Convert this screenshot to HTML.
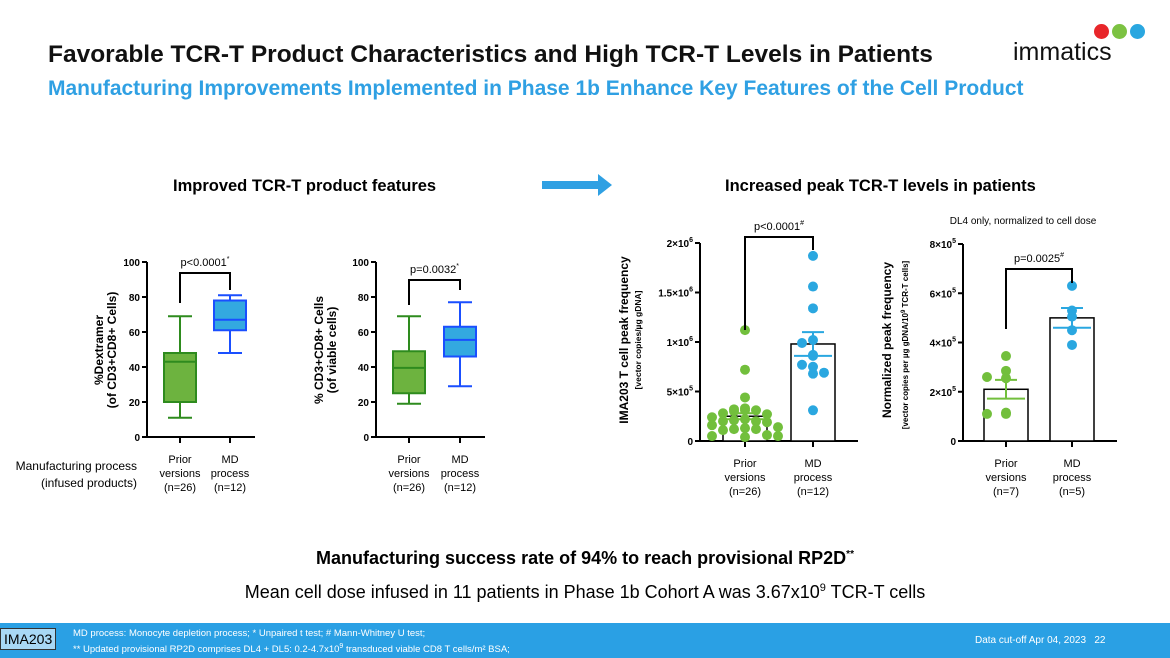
<!DOCTYPE html>
<html><head><meta charset="utf-8"><style>
body{margin:0;width:1170px;height:658px;overflow:hidden;background:#fff;font-family:"Liberation Sans",sans-serif;position:relative}
.t{position:absolute;white-space:nowrap}
</style></head><body>
<div class="t" style="left:48px;top:41px;font-size:24.5px;font-weight:bold;color:#111">Favorable TCR-T Product Characteristics and High TCR-T Levels in Patients</div>
<div class="t" style="left:48px;top:77px;font-size:21px;font-weight:bold;color:#2fa0e3">Manufacturing Improvements Implemented in Phase 1b Enhance Key Features of the Cell Product</div>
<div style="position:absolute;left:1010px;top:20px;width:130px;height:50px">
<div style="position:absolute;left:84px;top:4px;width:15px;height:15px;border-radius:50%;background:#e8262a"></div>
<div style="position:absolute;left:102px;top:4px;width:15px;height:15px;border-radius:50%;background:#7cc242"></div>
<div style="position:absolute;left:120px;top:4px;width:15px;height:15px;border-radius:50%;background:#2aa7e0"></div>
<div class="t" style="left:3px;top:18px;font-size:25px;color:#111">immatics</div></div>
<div class="t" style="left:173px;top:177px;font-size:16.5px;font-weight:bold">Improved TCR-T product features</div>
<div class="t" style="left:725px;top:177px;font-size:16.5px;font-weight:bold">Increased peak TCR-T levels in patients</div>
<svg style="position:absolute;left:542px;top:173px" width="72" height="24"><path d="M0 8H56V1L70 12L56 23V16H0Z" fill="#2fa0e3"/></svg>
<div class="t" style="left:10px;top:458px;font-size:12px;text-align:right;line-height:17px;width:127px">Manufacturing process<br>(infused products)</div>
<svg id="ch" style="position:absolute;left:0;top:0" width="1170" height="610" font-family="Liberation Sans, sans-serif"></svg>
<div class="t" style="left:0;width:1170px;text-align:center;top:548px;font-size:18px;font-weight:bold">Manufacturing success rate of 94% to reach provisional RP2D<sup style="font-size:10px">**</sup></div>
<div class="t" style="left:0;width:1170px;text-align:center;top:582px;font-size:18px">Mean cell dose infused in 11 patients in Phase 1b Cohort A was 3.67x10<sup style="font-size:11px">9</sup> TCR-T cells</div>
<div style="position:absolute;left:0;top:623px;width:1170px;height:35px;background:#2aa0e4">
<div class="t" style="left:0;top:5px;background:#a8d8f5;border:1px solid #333;font-size:14px;padding:2px 3px;color:#000">IMA203</div>
<div class="t" style="left:73px;top:4px;font-size:9.5px;color:#fff;line-height:13px">MD process: Monocyte depletion process; * Unpaired t test; # Mann-Whitney U test;<br>** Updated provisional RP2D comprises DL4 + DL5: 0.2-4.7x10<sup style="font-size:7px">9</sup> transduced viable CD8 T cells/m² BSA;</div>
<div class="t" style="left:975px;top:12px;font-size:10px;color:#fff">Data cut-off Apr 04, 2023 &nbsp;&nbsp;22</div>
</div>
<script>
const boxCats=["Prior<br>versions<br>(n=26)","MD<br>process<br>(n=12)"];
const normCats=["Prior<br>versions<br>(n=7)","MD<br>process<br>(n=5)"];
const dexPrior=[11,20,43,48,69];
const dexMD=[48,61,67,78,81];
const cd8Prior=[19,25,39.5,49,69];
const cd8MD=[29,46,55.5,63,77];
const boxTicks=[0,20,40,60,80,100];
const peakPrior=[1.12,0.72,0.44,0.33,0.32,0.31,0.30,0.31,0.28,0.27,0.24,0.22,0.21,0.20,0.20,0.19,0.16,0.14,0.13,0.12,0.12,0.11,0.06,0.05,0.04,0.05];
const peakMD=[1.87,1.56,1.34,1.02,0.99,0.87,0.86,0.75,0.77,0.69,0.68,0.31];
const peakMean=[0.25,0.98];const peakSem=[0.03,0.12];
const normPrior=[3.45,2.85,2.55,2.6,1.15,1.1,1.1];
const normMD=[6.3,5.3,5.05,4.5,3.9];
const normMean=[2.1,5.0];const normSem=[0.38,0.4];
const S=document.getElementById('ch');const NS="http://www.w3.org/2000/svg";
function el(t,a,txt){const e=document.createElementNS(NS,t);for(const k in a)e.setAttribute(k,a[k]);if(txt!==undefined)e.innerHTML=txt;S.appendChild(e);return e;}
function axis(ax,y0,y1,max,ticks,fmt,xs,xEnd,name,cats){
 const Y=v=>y0-(y0-y1)*v/max;
 let a=el('path',{d:`M${ax} ${y1}V${y0}H${xEnd}`,stroke:'#000','stroke-width':2,fill:'none'});
 
 ticks.forEach(t=>{el('line',{x1:ax-5,x2:ax,y1:Y(t),y2:Y(t),stroke:'#000','stroke-width':2});
  let l=el('text',{x:ax-7,y:Y(t)+4,'text-anchor':'end','font-size':10,'font-weight':'bold'},fmt(t));
  });
 xs.forEach((x,i)=>{el('line',{x1:x,x2:x,y1:y0,y2:y0+6,stroke:'#000','stroke-width':2});
  let l=el('text',{x:x,y:y0+26,'text-anchor':'middle','font-size':11});
  
  cats[i].split('<br>').forEach((s,j)=>{const ts=document.createElementNS(NS,'tspan');ts.setAttribute('x',x);ts.setAttribute('dy',j?14:0);ts.textContent=s;l.appendChild(ts);});});
 return Y;}
function ylabel(x,y,lines,sizes){lines.forEach((s,i)=>{let t=el('text',{transform:`translate(${x+i*(sizes[0]+1)},${y}) rotate(-90)`,'text-anchor':'middle','font-size':sizes[i],'font-weight':'bold'},s);
 });}
function bracket(x1,x2,yt,l1,l2,txt){el('path',{d:`M${x1} ${l1}V${yt}H${x2}V${l2}`,stroke:'#000','stroke-width':2,fill:'none'});
 let t=el('text',{x:(x1+x2)/2,y:yt-7,'text-anchor':'middle','font-size':11},txt);}
function box(Y,x,d,fill,stroke,name){const w=32;
 let g=el('g',{});
 [['line',{x1:x,x2:x,y1:Y(d[0]),y2:Y(d[1])}],['line',{x1:x,x2:x,y1:Y(d[3]),y2:Y(d[4])}],['line',{x1:x-12,x2:x+12,y1:Y(d[0]),y2:Y(d[0])}],['line',{x1:x-12,x2:x+12,y1:Y(d[4]),y2:Y(d[4])}],
 ['rect',{x:x-w/2,y:Y(d[3]),width:w,height:Y(d[1])-Y(d[3]),fill:fill}],['line',{x1:x-w/2,x2:x+w/2,y1:Y(d[2]),y2:Y(d[2])}]].forEach(([t,a])=>{a.stroke=stroke;a['stroke-width']=2;if(!a.fill)a.fill='none';const e=document.createElementNS(NS,t);for(const k in a)e.setAttribute(k,a[k]);g.appendChild(e);});}
let Y1=axis(147,437,262,100,boxTicks,t=>t,[180,230],255,'dextramer-chart',boxCats);
ylabel(103,350,['%Dextramer','(of CD3+CD8+ Cells)'],[12,12]);
bracket(180,230,273,303,290,'p<0.0001<tspan font-size="7" dy="-5">*</tspan>');
box(Y1,180,dexPrior,'#6db33f','#2e8b1e','box-prior-dextramer');box(Y1,230,dexMD,'#33a9e0','#1a4fff','box-md-dextramer');
let Y2=axis(376,437,262,100,boxTicks,t=>t,[409,460],485,'cd8-chart',boxCats);
ylabel(323,350,['% CD3+CD8+ Cells','(of viable cells)'],[12,12]);
bracket(409,460,280,305,290,'p=0.0032<tspan font-size="7" dy="-5">*</tspan>');
box(Y2,409,cd8Prior,'#6db33f','#2e8b1e','box-prior-cd8');box(Y2,460,cd8MD,'#33a9e0','#1a4fff','box-md-cd8');
function sci(t,e){return t===0?'0':`${t}×10<tspan font-size="7" dy="-5">${e}</tspan>`;}
function dotChart(ax,x0,x1,y0,y1,max,ticks,fmt,means,sems,pri,md,name,jw,bk,cats){
 const Y=axis(ax,y0,y1,max,ticks,fmt,[x0,x1],x1+45,name,cats);
 [x0,x1].forEach((x,i)=>{let r=el('rect',{x:x-22,y:Y(means[i]),width:44,height:y0-Y(means[i]),fill:'#fff',stroke:'#000','stroke-width':1.5});
  });
 const put=(arr,x,c)=>{const cnt={};arr.forEach((v,i)=>{const k=Math.round(Y(v)/bk);cnt[k]=(cnt[k]||0)+1;const n=cnt[k]-1;
  const off=n===0?0:(n%2?-1:1)*Math.ceil(n/2)*jw;let d=el('circle',{cx:x+off,cy:Y(v),r:5,fill:c});
  });};
 put(pri,x0,'#72bf3c');put(md,x1,'#2aa7e0');
 [[x0,'#72bf3c'],[x1,'#2aa7e0']].forEach(([x,c],i)=>{el('path',{d:`M${x-11} ${Y(means[i]+sems[i])}H${x+11}M${x} ${Y(means[i]+sems[i])}V${Y(means[i]-sems[i])}M${x-19} ${Y(means[i]-sems[i])}H${x+19}`,stroke:c,'stroke-width':2,fill:'none'});});
 return Y;}
dotChart(700,745,813,441,243,2,[0,0.5,1,1.5,2],t=>t===0?'0':t===0.5?sci(5,5):t===1?sci(1,6):sci(t,6),peakMean,peakSem,peakPrior,peakMD,'peak-chart',11,9,boxCats);
ylabel(628,340,['IMA203 T cell peak frequency'],[12]);
el('text',{transform:'translate(641,340) rotate(-90)','text-anchor':'middle','font-size':8.5,'font-weight':'bold'},'[vector copies/µg gDNA]');
bracket(745,813,237,330,250,'p<0.0001<tspan font-size="7" dy="-5">#</tspan>');
dotChart(963,1006,1072,441,244,8,[0,2,4,6,8],t=>t===0?'0':sci(t,5),normMean,normSem,normPrior,normMD,'normalized-chart',19,14,normCats);
ylabel(891,340,['Normalized peak frequency'],[12]);
el('text',{transform:'translate(908,345) rotate(-90)','text-anchor':'middle','font-size':8,'font-weight':'bold'},'[vector copies per µg gDNA/10<tspan font-size="6" dy="-3">9</tspan><tspan dy="3"> TCR-T cells]</tspan>');
bracket(1006,1072,269,329,283,'p=0.0025<tspan font-size="7" dy="-5">#</tspan>');
let nt=el('text',{x:1023,y:224,'text-anchor':'middle','font-size':10},'DL4 only, normalized to cell dose');

</script>
</body></html>
